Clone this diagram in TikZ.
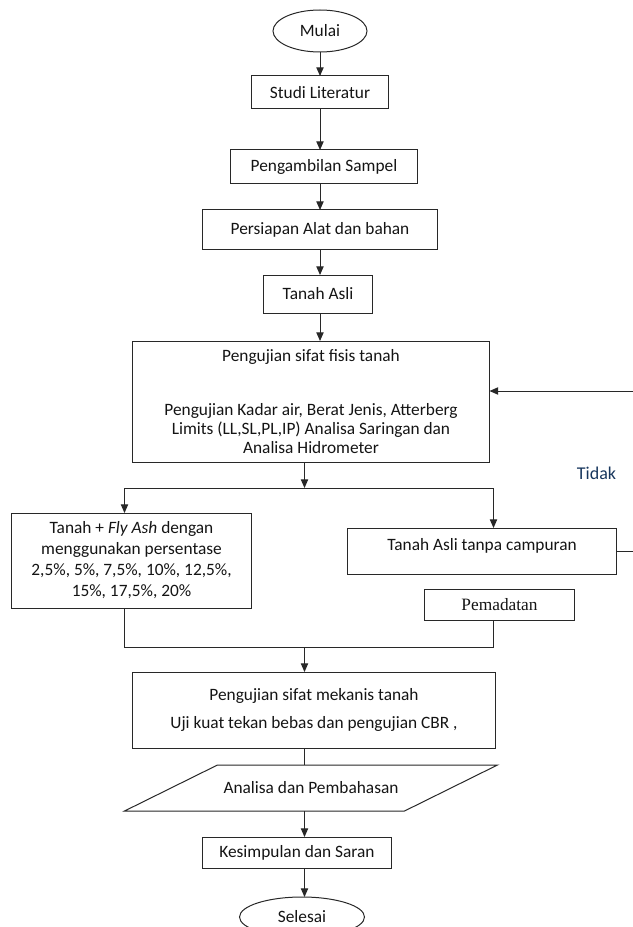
\documentclass[tikz,border=0pt]{standalone}
\usepackage{fontspec}
\setmainfont{Carlito}
\newfontfamily\pemfont{Liberation Serif}
\definecolor{FlowLine}{RGB}{40,40,40}
\definecolor{FlowText}{RGB}{20,20,20}
\definecolor{TidakBlue}{RGB}{23,54,93}
\usepackage{tikz}
\usetikzlibrary{arrows.meta, positioning, shapes.geometric}

\begin{document}
\begin{tikzpicture}[
          box/.style={
            draw=FlowLine,
            line width=0.75pt,
            align=center,
            text=FlowText,
            inner sep=2pt,
            outer sep=0pt,
            font=\fontsize{13}{15.5}\selectfont
          },
          oval/.style={box, ellipse},
          para/.style={
            align=center,
            text=FlowText,
            inner sep=2pt,
            outer sep=0pt,
            font=\fontsize{13}{15.5}\selectfont
          },
          arrow/.style={-{Triangle[length=6.5pt, width=5.5pt]}, line width=0.75pt, FlowLine},
          line/.style={line width=0.75pt, FlowLine}
        ]
        \useasboundingbox (0,0) rectangle (474pt,-695.25pt);
        \node[oval, minimum width=70.5pt, minimum height=31.5pt] (mulai) at (240pt,-23.25pt) {Mulai};
        \node[box, minimum width=102.75pt, minimum height=24.75pt, below=18pt of mulai] (studi) {Studi Literatur};
        \node[box, minimum width=140.25pt, minimum height=25.5pt, below=30.75pt of studi, xshift=3pt] (ambil) {Pengambilan Sampel};
        \node[box, minimum width=176.25pt, minimum height=29.25pt, below=19.5pt of ambil, xshift=-3pt] (siap) {Persiapan Alat dan bahan};
        \node[box, minimum width=81.75pt, minimum height=28.5pt, below=19.5pt of siap, xshift=-1.5pt] (asli) {Tanah Asli};
        \node[box, minimum width=267.75pt, minimum height=90.75pt, below=21pt of asli, xshift=-5.25pt,
              font=\fontsize{13}{14.5}\selectfont] (fisis)
             {Pengujian sifat fisis tanah\\[26pt]Pengujian Kadar air, Berat Jenis, Atterberg\\Limits (LL,SL,PL,IP) Analisa Saringan dan\\Analisa Hidrometer};
        \node[box, minimum width=180pt, minimum height=71.25pt, below=38.25pt of fisis, xshift=-134.625pt,
              font=\fontsize{13}{15.75}\selectfont] (campur)
             {Tanah + \textit{Fly Ash} dengan\\menggunakan persentase\\2,5\%, 5\%, 7,5\%, 10\%, 12,5\%,\\15\%, 17,5\%, 20\%};
        \node[box, minimum width=201.75pt, minimum height=34.5pt, text height=9.5pt, text depth=10.5pt,
              below=49.5pt of fisis, xshift=128.25pt] (tanpa) {Tanah Asli tanpa campuran};
        \node[box, minimum width=112.5pt, minimum height=23.25pt, below=11.25pt of tanpa, xshift=13.125pt,
              font=\pemfont\fontsize{13}{15.5}\selectfont] (padat) {Pemadatan};
        \node[box, minimum width=272.25pt, minimum height=57pt, below=157.5pt of fisis, xshift=2.25pt] (mekanis)
             {Pengujian sifat mekanis tanah\\[5.5pt]Uji kuat tekan bebas dan pengujian CBR ,};
        \node[para, minimum width=279.75pt, minimum height=34.5pt, below=12.75pt of mekanis, xshift=-2.25pt] (analisa)
             {Analisa dan Pembahasan};
        \draw[line] (analisa.south west) -- ([xshift=-69.75pt]analisa.south east)
                    -- (analisa.north east) -- ([xshift=69.75pt]analisa.north west) -- cycle;
        \node[box, minimum width=141.75pt, minimum height=23.25pt, below=19.5pt of analisa, xshift=-10.5pt] (simpul)
             {Kesimpulan dan Saran};
        \node[oval, minimum width=93.75pt, minimum height=30pt, below=21.75pt of simpul, xshift=3.75pt] (selesai) {Selesai};
        \node[font=\fontsize{13.5}{16}\selectfont, text=TidakBlue] (tidak)
             at ([xshift=-15pt, yshift=41.25pt]tanpa.north east) {Tidak};
        % branch and merge points
        \coordinate (hub) at ([xshift=-4.875pt, yshift=-19.5pt]fisis.south);
        \coordinate (join) at ([xshift=-7.125pt, yshift=18.75pt]mekanis.north);
        \coordinate (loop) at (475pt,0);
        \draw[arrow] (mulai.south) -- (mulai.south |- studi.north);
        \draw[arrow] (studi.south -| mulai) -- (ambil.north -| mulai);
        \draw[arrow] (ambil.south -| mulai) -- (siap.north -| mulai);
        \draw[arrow] (siap.south -| mulai) -- (asli.north -| mulai);
        \draw[arrow] (asli.south -| mulai) -- (fisis.north -| mulai);
        \draw[arrow] (fisis.south -| hub) -- (hub);
        \draw[arrow] (hub) -| ([xshift=-5.25pt]campur.north);
        \draw[arrow] (hub) -| ([xshift=8.625pt]tanpa.north);
        \draw[line] ([xshift=-5.25pt]campur.south) |- (join);
        \draw[line] ([xshift=-4.5pt]padat.south) |- (join);
        \draw[arrow] (join) -- (join |- mekanis.north);
        \draw[line] (mekanis.south -| join) -- (analisa.north -| join);
        \draw[arrow] (analisa.south -| join) -- (simpul.north -| join);
        \draw[arrow] (simpul.south -| join) -- (selesai.north -| join);
        \draw[arrow] (tanpa.east) -- (tanpa.east -| loop) |- ([yshift=7.875pt]fisis.east);
      \end{tikzpicture}
\end{document}
